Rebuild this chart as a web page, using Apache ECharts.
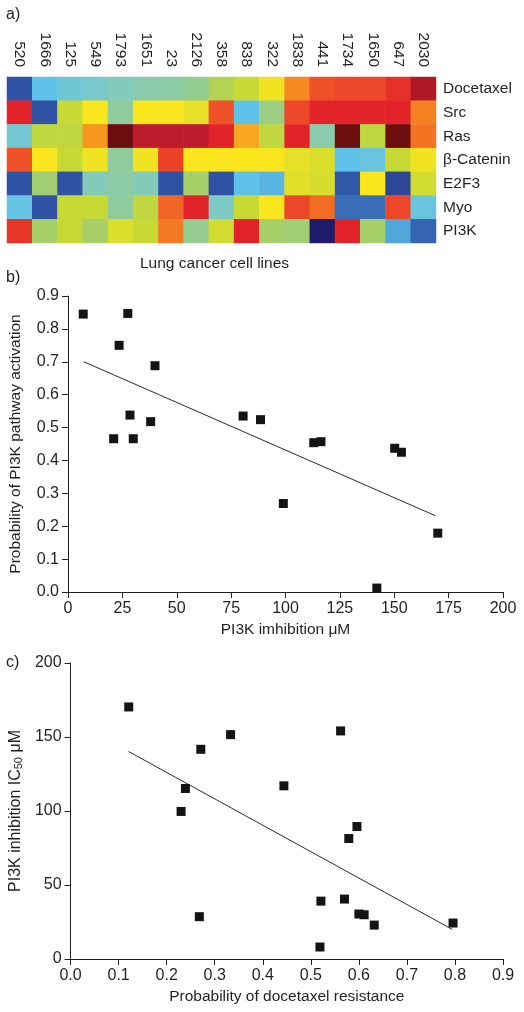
<!DOCTYPE html>
<html><head><meta charset="utf-8">
<script src="https://cdn.jsdelivr.net/npm/echarts@6/dist/echarts.min.js"></script>
<style>html,body{margin:0;padding:0;background:#fff}#c{width:524px;height:1012px}</style>
</head><body><div id="c"></div>
<script>
// ---- Panel a data ----
const cellLines = ['520','1666','125','549','1793','1651','23','2126','358','838','322','1838','441','1734','1650','647','2030'];
const pathways = ['Docetaxel','Src','Ras','β-Catenin','E2F3','Myo','PI3K'];
// colour level per cell (0 = navy ... 13 = maroon)
const docetaxel = [1,3,3.5,3.8,4.2,4.6,4.8,5.2,6.4,7,7.8,9.2,10,10.2,10.2,10.7,12.2];
const src       = [11,1,7,8,5,8,8,7.6,10,3,5.5,10.2,11,11,11,11,9.3];
const ras       = [3.6,6.8,6.8,9,13,12,12,12,11,8.8,6.8,11,4.6,13,6.8,13,9.5];
const bCatenin  = [10,8,7,7.8,5,7.8,10.3,8,8,8,8,7.6,7.4,3,3.3,7,7.8];
const e2f3      = [1,5.8,1,4.3,4.8,4.3,1,6,1,3,2.8,7.5,7.3,1.1,8,0.8,7.2];
const myo       = [3.2,1,7,7,5,6.8,9.7,11,4,7,8,10.2,9.6,1.6,1.6,10.2,3.3];
const pi3k      = [10.6,6,7,6,7.4,7,9.4,5.2,7.2,11,6,5.8,0,11,6,2.6,1.4];
const heatRows = [docetaxel, src, ras, bCatenin, e2f3, myo, pi3k];

// ---- Panel b data ----
const bX = [7,27.5,23.5,40,28.5,38,21,30,80.5,88.5,113,116.3,150.2,153.3,99,170,142];
const bY = [0.845,0.847,0.75,0.688,0.538,0.518,0.466,0.466,0.535,0.524,0.454,0.457,0.437,0.425,0.269,0.179,0.012];
const bTrendX = [7.3,168.9];
const bTrendY = [0.700,0.232];

// ---- Panel c data ----
const cX = [0.121,0.333,0.562,0.271,0.444,0.239,0.230,0.596,0.579,0.521,0.570,0.600,0.611,0.632,0.796,0.268,0.519];
const cY = [170.3,151.6,154.1,141.7,117,115.2,99.7,89.5,81.4,39.1,40.5,30.4,29.9,22.9,24.3,28.6,8.1];
const cTrendX = [0.1207,0.7944];
const cTrendY = [140.2,20.0];

const heatColors = ['#1e1c6a','#2f52a4','#3f7fc6','#5fc2e8','#7ecbc4','#90cb9c','#a6cf6a','#c6d935','#fbe51d','#f7961f','#ee5027','#e3232a','#bd1c2c','#6e0d10'];

const heatData = [];
heatRows.forEach((row, r) => row.forEach((v, c) => heatData.push([c, r, v])));
const zip = (a, b) => a.map((v, i) => [v, b[i]]);

const FONT = 'Liberation Sans, Arial, sans-serif';
const TXT = '#231f20';
const axisCommon = {
  axisLine: {lineStyle: {color: TXT, width: 1}},
  axisTick: {length: 6, lineStyle: {color: TXT}},
  axisLabel: {color: TXT, fontSize: 16, fontFamily: FONT, margin: 9},
  splitLine: {show: false},
  nameTextStyle: {color: TXT, fontSize: 15.5, fontFamily: FONT},
  nameLocation: 'middle'
};

const chart = echarts.init(document.getElementById('c'), null, {renderer: 'canvas'});
chart.setOption({
  animation: false,
  textStyle: {fontFamily: FONT},
  grid: [
    {left: 7, top: 77, width: 429, height: 166},
    {left: 66, top: 296, width: 437, height: 296},
    {left: 66, top: 663, width: 437, height: 296}
  ],
  xAxis: [
    {gridIndex: 0, type: 'category', data: cellLines, position: 'top',
     axisLine: {show: false}, axisTick: {show: false}, splitArea: {show: false},
     axisLabel: {rotate: 90, color: TXT, fontSize: 15.5, fontFamily: FONT, margin: 10}},
    Object.assign({}, axisCommon, {gridIndex: 1, type: 'value', min: 0, max: 200, interval: 25,
     name: 'PI3K imhibition μM', nameGap: 30}),
    Object.assign({}, axisCommon, {gridIndex: 2, type: 'value', min: 0, max: 0.9, interval: 0.1,
     name: 'Probability of docetaxel resistance', nameGap: 30,
     axisLabel: Object.assign({}, axisCommon.axisLabel, {formatter: v => v.toFixed(1)})})
  ],
  yAxis: [
    {gridIndex: 0, type: 'category', data: pathways, position: 'right', inverse: true,
     axisLine: {show: false}, axisTick: {show: false},
     axisLabel: {color: TXT, fontSize: 15.5, fontFamily: FONT, margin: 7}},
    Object.assign({}, axisCommon, {gridIndex: 1, type: 'value', min: 0, max: 0.9, interval: 0.1,
     name: 'Probability of PI3K pathway activation', nameGap: 44,
     axisLabel: Object.assign({}, axisCommon.axisLabel, {formatter: v => v.toFixed(1)})}),
    Object.assign({}, axisCommon, {gridIndex: 2, type: 'value', min: 0, max: 200, interval: 50,
     name: 'PI3K inhibition IC{sub|50} μM', nameGap: 43,
     nameTextStyle: {color: TXT, fontSize: 16, fontFamily: FONT,
       rich: {sub: {fontSize: 11, color: TXT, fontFamily: FONT, verticalAlign: 'bottom', padding: [4,0,0,0]}}}})
  ],
  visualMap: {show: false, seriesIndex: 0, min: 0, max: 13, inRange: {color: heatColors}},
  series: [
    {type: 'heatmap', xAxisIndex: 0, yAxisIndex: 0, data: heatData, itemStyle: {borderWidth: 0}},
    {type: 'scatter', xAxisIndex: 1, yAxisIndex: 1, data: zip(bX, bY), symbol: 'rect', symbolSize: 9,
     itemStyle: {color: '#141414', opacity: 1}, z: 3},
    {type: 'line', xAxisIndex: 1, yAxisIndex: 1, data: zip(bTrendX, bTrendY), showSymbol: false,
     lineStyle: {color: '#2a2a2a', width: 1}, z: 2},
    {type: 'scatter', xAxisIndex: 2, yAxisIndex: 2, data: zip(cX, cY), symbol: 'rect', symbolSize: 9,
     itemStyle: {color: '#141414', opacity: 1}, z: 3},
    {type: 'line', xAxisIndex: 2, yAxisIndex: 2, data: zip(cTrendX, cTrendY), showSymbol: false,
     lineStyle: {color: '#2a2a2a', width: 1}, z: 2}
  ],
  graphic: [
    {type: 'text', left: 6, top: 7, style: {text: 'a)', fontSize: 16, fontFamily: FONT, fill: TXT}},
    {type: 'text', left: 6, top: 270, style: {text: 'b)', fontSize: 16, fontFamily: FONT, fill: TXT}},
    {type: 'text', left: 6, top: 655, style: {text: 'c)', fontSize: 16, fontFamily: FONT, fill: TXT}},
    {type: 'text', left: 140, top: 256, style: {text: 'Lung cancer cell lines', fontSize: 15.5, fontFamily: FONT, fill: TXT}}
  ]
});
</script></body></html>
